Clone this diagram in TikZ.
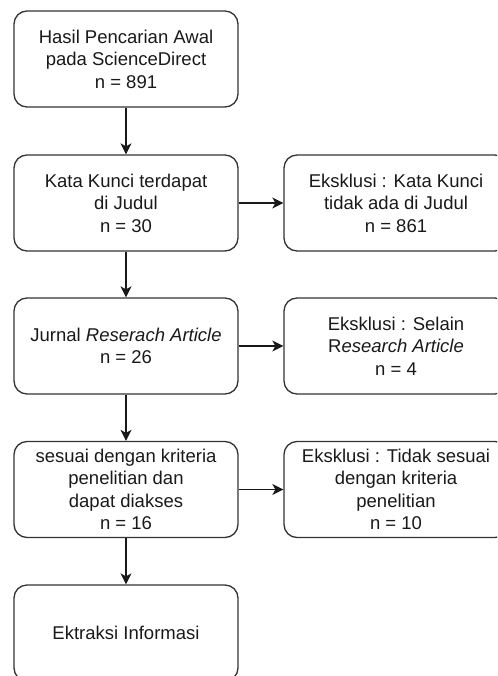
\documentclass[tikz,border=0pt]{standalone}
\usepackage{fontspec}
\setmainfont{Liberation Sans}
\usetikzlibrary{arrows.meta}
\begin{document}
\begin{tikzpicture}[x=1pt,y=-1pt,
  box/.style={draw=black!80, line width=1.3pt, rounded corners=13pt,
    minimum width=224pt, minimum height=96pt, align=center,
    font=\fontsize{18.5}{22.5}\selectfont, text=black!90, inner sep=0pt},
  arr/.style={line width=1.3pt, draw=black!90,
    -{Stealth[length=11pt,width=11pt,inset=3pt]}}]
\useasboundingbox (0,0) rectangle (497,676);
\clip (0,0) rectangle (497,676);
\node[box] (b1) at (126,59) {Hasil Pencarian Awal\\pada ScienceDirect\\n = 891};
\node[box] (b2) at (126,203) {Kata Kunci terdapat\\di Judul\\n = 30};
\node[box] (r2) at (396,203) {Eksklusi : Kata Kunci\\tidak ada di Judul\\n = 861};
\node[box] (b3) at (126,346) {Jurnal \textit{Reserach Article}\\n = 26};
\node[box] (r3) at (396,346) {Eksklusi : Selain\\R\textit{esearch Article}\\n = 4};
\node[box] (b4) at (126,489.5) {sesuai dengan kriteria\\penelitian dan\\dapat diakses\\n = 16};
\node[box] (r4) at (396,489.5) {Eksklusi : Tidak sesuai\\dengan kriteria\\penelitian\\n = 10};
\node[box] (b5) at (126,633) {Ektraksi Informasi};
\draw[arr] (b1.south) -- (b2.north);
\draw[arr] (b2.south) -- (b3.north);
\draw[arr] (b3.south) -- (b4.north);
\draw[arr] (b4.south) -- (b5.north);
\draw[arr] (b2.east) -- (r2.west);
\draw[arr] (b3.east) -- (r3.west);
\draw[arr] (b4.east) -- (r4.west);
\end{tikzpicture}
\end{document}
